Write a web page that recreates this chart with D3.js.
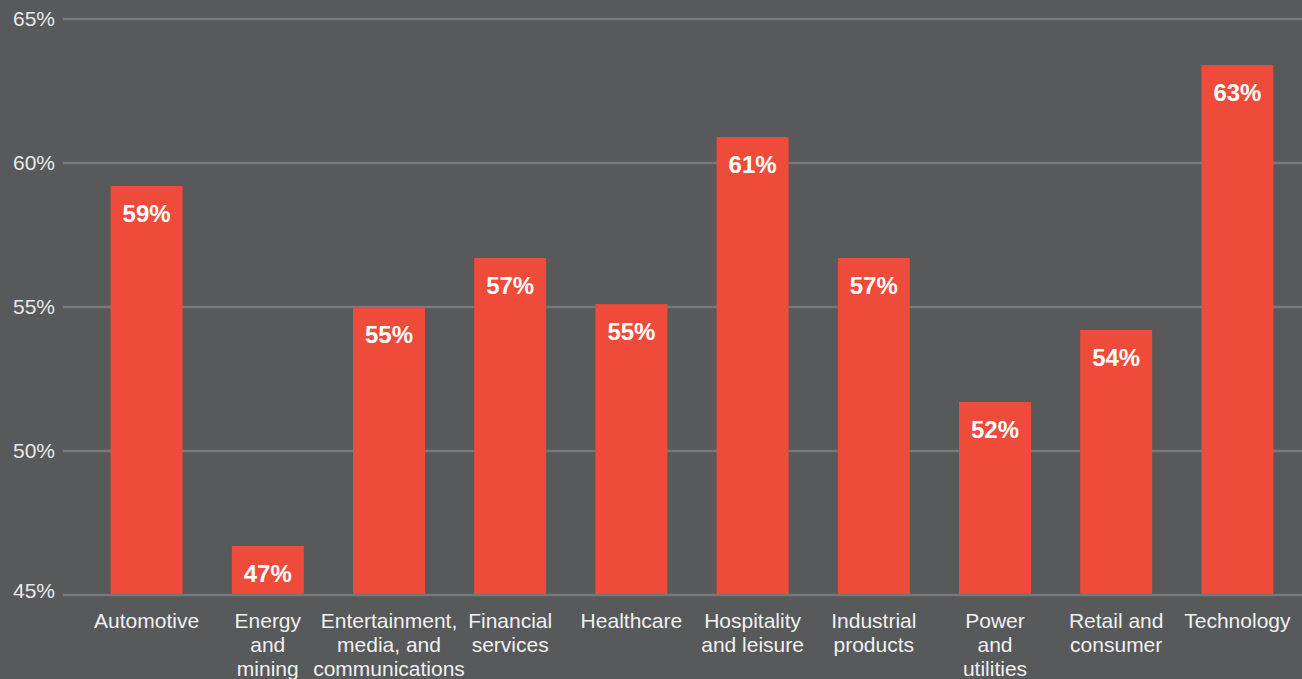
<!DOCTYPE html>
<html>
<head>
<meta charset="utf-8">
<script src="https://cdn.jsdelivr.net/npm/d3@7"></script>
<style>
  body { margin: 0; background: #58595b; }
  svg { display: block; }
</style>
</head>
<body>
<svg></svg>
<script>
var sectors = [
  ["Automotive"],
  ["Energy", "and", "mining"],
  ["Entertainment,", "media, and", "communications"],
  ["Financial", "services"],
  ["Healthcare"],
  ["Hospitality", "and leisure"],
  ["Industrial", "products"],
  ["Power", "and", "utilities"],
  ["Retail and", "consumer"],
  ["Technology"]
];
var shares = [59.2, 46.7, 55.0, 56.7, 55.1, 60.9, 56.7, 51.7, 54.2, 63.4];
var shareLabels = ["59%", "47%", "55%", "57%", "55%", "61%", "57%", "52%", "54%", "63%"];
var yTicks = [45, 50, 55, 60, 65];

var width = 1302;
var height = 679;
var font = "Liberation Sans, Arial, Helvetica, sans-serif";

var svg = d3.select("svg").attr("width", width).attr("height", height);

svg.append("rect").attr("width", width).attr("height", height).attr("fill", "#58595b");

var xScale = d3
  .scaleBand()
  .domain(d3.range(sectors.length))
  .range([86, 1298])
  .paddingInner(0.406)
  .paddingOuter(0.203);

var yScale = d3.scaleLinear().domain([45, 65]).range([595, 19]);

// gridlines
svg
  .selectAll("line.grid")
  .data(yTicks)
  .enter()
  .append("line")
  .attr("class", "grid")
  .attr("x1", 63)
  .attr("x2", width)
  .attr("y1", (d) => yScale(d))
  .attr("y2", (d) => yScale(d))
  .attr("stroke", "#77787a")
  .attr("stroke-width", 2.5);

// y tick labels
svg
  .selectAll("text.ytick")
  .data(yTicks)
  .enter()
  .append("text")
  .attr("class", "ytick")
  .attr("x", 55)
  .attr("y", (d) => yScale(d) + (d == 45 ? 3 : 7))
  .attr("text-anchor", "end")
  .attr("font-family", font)
  .attr("font-size", 21)
  .attr("fill", "#e8e8e8")
  .text((d) => d + "%");

// bars
svg
  .selectAll("rect.bar")
  .data(shares)
  .enter()
  .append("rect")
  .attr("class", "bar")
  .attr("x", (d, i) => xScale(i))
  .attr("width", xScale.bandwidth())
  .attr("y", (d) => yScale(d))
  .attr("height", (d) => yScale(45) - 1 - yScale(d))
  .attr("fill", "#ee4b3b");

// value labels
svg
  .selectAll("text.value")
  .data(shares)
  .enter()
  .append("text")
  .attr("class", "value")
  .attr("x", (d, i) => xScale(i) + xScale.bandwidth() / 2)
  .attr("y", (d) => yScale(d) + 36)
  .attr("text-anchor", "middle")
  .attr("font-family", font)
  .attr("font-weight", "bold")
  .attr("font-size", 24)
  .attr("fill", "#ffffff")
  .text((d, i) => shareLabels[i]);

// category labels
var cats = svg
  .selectAll("text.cat")
  .data(sectors)
  .enter()
  .append("text")
  .attr("class", "cat")
  .attr("text-anchor", "middle")
  .attr("font-family", font)
  .attr("font-size", 21)
  .attr("fill", "#f0f0f0");

cats
  .selectAll("tspan")
  .data((d, i) => d.map((t) => ({ t: t, i: i })))
  .enter()
  .append("tspan")
  .attr("x", (d) => xScale(d.i) + xScale.bandwidth() / 2)
  .attr("y", (d, j) => 628 + j * 24)
  .text((d) => d.t);
</script>
</body>
</html>
